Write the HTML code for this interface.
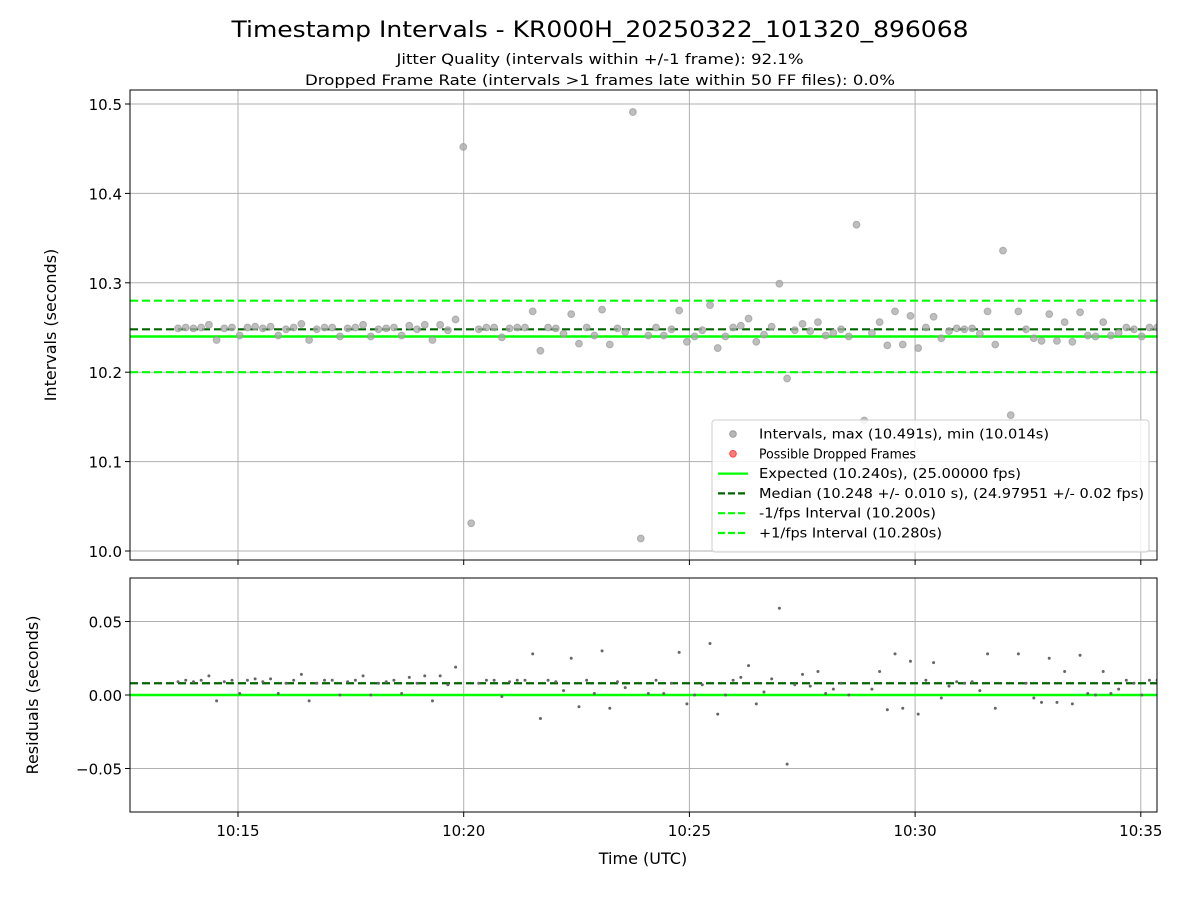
<!DOCTYPE html>
<html><head><meta charset="utf-8"><style>html,body{margin:0;background:#fff;width:1200px;height:900px;overflow:hidden}svg{display:block;font-family:"DejaVu Sans","Liberation Sans",sans-serif}</style></head>
<body>
<svg id="c" width="1200" height="900"></svg>
<script>
const intervals=[10.249,10.250,10.249,10.250,10.253,10.236,10.249,10.250,10.241,10.250,10.251,10.249,10.251,10.241,10.248,10.250,10.254,10.236,10.248,10.250,10.250,10.240,10.249,10.250,10.253,10.240,10.248,10.249,10.250,10.241,10.252,10.248,10.253,10.236,10.253,10.247,10.259,10.452,10.031,10.248,10.250,10.250,10.239,10.249,10.250,10.250,10.268,10.224,10.250,10.249,10.243,10.265,10.232,10.250,10.241,10.270,10.231,10.249,10.245,10.491,10.014,10.241,10.250,10.241,10.248,10.269,10.234,10.240,10.247,10.275,10.227,10.240,10.250,10.252,10.260,10.234,10.242,10.251,10.299,10.193,10.247,10.254,10.246,10.256,10.241,10.244,10.248,10.240,10.365,10.146,10.244,10.256,10.230,10.268,10.231,10.263,10.227,10.250,10.262,10.238,10.246,10.249,10.248,10.249,10.243,10.268,10.231,10.336,10.152,10.268,10.248,10.238,10.235,10.265,10.235,10.256,10.234,10.267,10.241,10.240,10.256,10.241,10.244,10.250,10.248,10.240,10.250,10.250];
const startSec=13*60+40.3; // seconds after 10:00
const expected=10.240, median=10.248, lo=10.200, hi=10.280;
const xTickLabels=["10:15","10:20","10:25","10:30","10:35"];
const xTickSecs=[900,1200,1500,1800,2100];
const yTopTicks=[10.0,10.1,10.2,10.3,10.4,10.5];
const yBotTicks=[-0.05,0,0.05];
const yBotLabels=["\u22120.05","0.00","0.05"];

const NS="http://www.w3.org/2000/svg",svg=document.getElementById('c');
function el(t,a,p){const e=document.createElementNS(NS,t);for(const k in a)e.setAttribute(k,a[k]);(p||svg).appendChild(e);return e;}
const L=130,R=1157,T1=90,B1=560,T2=578,B2=812;
const X=s=>238+(s-900)*(225.7/300);
const Y1=v=>551-(v-10)*894;
const Y2=r=>695-r*1470;
let t=el('text',{x:600,y:37,'text-anchor':'middle','font-size':22,textLength:737,lengthAdjust:'spacingAndGlyphs'});t.textContent="Timestamp Intervals - KR000H_20250322_101320_896068";
t=el('text',{x:600,y:64,'text-anchor':'middle','font-size':14,textLength:407,lengthAdjust:'spacingAndGlyphs'});t.textContent="Jitter Quality (intervals within +/-1 frame): 92.1%";
t=el('text',{x:600,y:85,'text-anchor':'middle','font-size':14,textLength:590,lengthAdjust:'spacingAndGlyphs'});t.textContent="Dropped Frame Rate (intervals >1 frames late within 50 FF files): 0.0%";
const defs=el('defs',{});
const c1=el('clipPath',{id:'k1'},defs);el('rect',{x:L,y:T1,width:R-L,height:B1-T1},c1);
const c2=el('clipPath',{id:'k2'},defs);el('rect',{x:L,y:T2,width:R-L,height:B2-T2},c2);
const g1=el('g',{'clip-path':'url(#k1)'});
const g2=el('g',{'clip-path':'url(#k2)'});
xTickSecs.forEach((s,i)=>{
 el('line',{x1:X(s),x2:X(s),y1:T1,y2:B1,stroke:'#b0b0b0','stroke-width':1},g1);
 el('line',{x1:X(s),x2:X(s),y1:T2,y2:B2,stroke:'#b0b0b0','stroke-width':1},g2);
 el('line',{x1:X(s),x2:X(s),y1:B1,y2:B1+5,stroke:'#000'});
 el('line',{x1:X(s),x2:X(s),y1:B2,y2:B2+5,stroke:'#000'});
 const tx=el('text',{x:X(s),y:B2+24,'text-anchor':'middle','font-size':15});tx.textContent=xTickLabels[i];
 
});
yTopTicks.forEach(v=>{
 el('line',{x1:L,x2:R,y1:Y1(v),y2:Y1(v),stroke:'#b0b0b0'},g1);
 el('line',{x1:L-5,x2:L,y1:Y1(v),y2:Y1(v),stroke:'#000'});
 const tx=el('text',{x:L-8,y:Y1(v)+6,'text-anchor':'end','font-size':15});tx.textContent=v.toFixed(1);
 
});
yBotTicks.forEach((v,i)=>{
 el('line',{x1:L,x2:R,y1:Y2(v),y2:Y2(v),stroke:'#b0b0b0'},g2);
 el('line',{x1:L-5,x2:L,y1:Y2(v),y2:Y2(v),stroke:'#000'});
 const tx=el('text',{x:L-8,y:Y2(v)+6,'text-anchor':'end','font-size':15});tx.textContent=yBotLabels[i];
 
});
el('line',{x1:L,x2:R,y1:Y1(hi),y2:Y1(hi),stroke:'#00ff00','stroke-width':2.2,'stroke-dasharray':'8,4'},g1);
el('line',{x1:L,x2:R,y1:Y1(lo),y2:Y1(lo),stroke:'#00ff00','stroke-width':2.2,'stroke-dasharray':'8,4'},g1);
el('line',{x1:L,x2:R,y1:Y1(median),y2:Y1(median),stroke:'#006400','stroke-width':2.2,'stroke-dasharray':'8,4'},g1);
el('line',{x1:L,x2:R,y1:Y1(expected),y2:Y1(expected),stroke:'#00ff00','stroke-width':2.5},g1);
el('line',{x1:L,x2:R,y1:Y2(median-expected),y2:Y2(median-expected),stroke:'#006400','stroke-width':2.2,'stroke-dasharray':'8,4'},g2);
el('line',{x1:L,x2:R,y1:Y2(0),y2:Y2(0),stroke:'#00ff00','stroke-width':2.5},g2);
let s=startSec;
intervals.forEach((v,i)=>{
 if(i>0) s+=intervals[i-1];
 const p=el('circle',{cx:X(s),cy:Y1(v),r:3.4,fill:'#a8a8a8',stroke:'#999','fill-opacity':0.75,'stroke-opacity':0.7},g1);
 
 const q=el('circle',{cx:X(s),cy:Y2(v-expected),r:1.5,fill:'#666'},g2);
 
});
el('rect',{x:L,y:T1,width:R-L,height:B1-T1,fill:'none',stroke:'#000'});
el('rect',{x:L,y:T2,width:R-L,height:B2-T2,fill:'none',stroke:'#000'});
t=el('text',{x:643,y:864,'text-anchor':'middle','font-size':16});t.textContent="Time (UTC)";
t=el('text',{x:0,y:0,'text-anchor':'middle','font-size':16,transform:'translate(56,325) rotate(-90)'});t.textContent="Intervals (seconds)";
t=el('text',{x:0,y:0,'text-anchor':'middle','font-size':16,transform:'translate(38,695) rotate(-90)'});t.textContent="Residuals (seconds)";
const lg=el('g',{});
el('rect',{x:712,y:420,width:437,height:132,rx:3,fill:'#fff','fill-opacity':0.85,stroke:'#ccc'},lg);
const items=[["pt","#999","Intervals, max (10.491s), min (10.014s)"],["pt","#ff4444","Possible Dropped Frames"],["solid","#00ff00","Expected (10.240s), (25.00000 fps)"],["dash","#006400","Median (10.248 +/- 0.010 s), (24.97951 +/- 0.02 fps)"],["dash","#00ff00","-1/fps Interval (10.200s)"],["dash","#00ff00","+1/fps Interval (10.280s)"]];
items.forEach((it,i)=>{
 const y=434+i*19.8;
 const ge=el('g',{},lg);
 if(it[0]=="pt") el('circle',{cx:733,cy:y,r:3.3,fill:it[1],'fill-opacity':0.7,stroke:it[1]},ge);
 else el('line',{x1:718,x2:748,y1:y,y2:y,stroke:it[1],'stroke-width':2.2,'stroke-dasharray':it[0]=="dash"?'7,3':'none'},ge);
 const tx=el('text',{x:759,y:y+4.5,'font-size':13,textLength:[290,157,262,385,177,183][i],lengthAdjust:'spacingAndGlyphs'},ge);tx.textContent=it[2];
});
</script>
</body></html>
